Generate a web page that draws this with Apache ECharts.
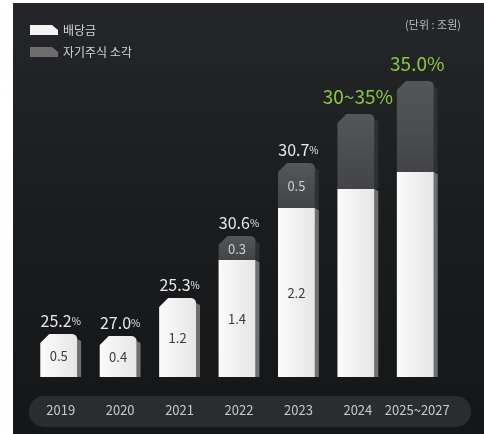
<!DOCTYPE html>
<html>
<head>
<meta charset="utf-8">
<script src="https://cdn.jsdelivr.net/npm/echarts@6/dist/echarts.min.js"></script>
<style>
  html, body { margin: 0; padding: 0; background: #fff; }
  #chart { width: 484px; height: 434px; }
</style>
</head>
<body>
<div id="chart"></div>
<script>
// categories
const years = ['2019', '2020', '2021', '2022', '2023', '2024', '2025~2027'];
// bar lengths as drawn in the picture (the graphic is not to scale)
const dividendBar = [1.075, 1.025, 1.975, 2.925, 4.225, 4.7, 5.125];
const buybackBar = [0, 0, 0, 0.6, 1.125, 1.875, 2.275];
// printed values (조원)
const dividendText = ['0.5', '0.4', '1.2', '1.4', '2.2', '', ''];
const buybackText = ['', '', '', '0.3', '0.5', '', ''];
// shareholder return ratio (%)
const payoutText = ['25.2', '27.0', '25.3', '30.6', '30.7', '30~35', '35.0'];
const isTarget = [false, false, false, false, false, true, true];

const FONT = '"Noto Sans CJK KR", "Noto Sans", sans-serif';
const chart = echarts.init(document.getElementById('chart'));

const CH = 9, RAD = 5, SIDE = 4;

function facePoints(x0, x1, yt, yb, shaped) {
    if (!shaped) return [[x0, yb], [x0, yt], [x1, yt], [x1, yb]];
    const pts = [[x0, yb], [x0, yt + CH], [x0 + CH, yt]];
    const cx = x1 - RAD, cy = yt + RAD;
    for (let k = 0; k <= 6; k++) {
        const a = -Math.PI / 2 + (Math.PI / 2) * k / 6;
        pts.push([cx + RAD * Math.cos(a), cy + RAD * Math.sin(a)]);
    }
    pts.push([x1, yb]);
    return pts;
}

function barGeom(api) {
    const i = api.value(0);
    const band = api.size([1, 0])[0];
    const w = band * 0.62;
    const cx = api.coord([i, 0])[0];
    const x0 = cx - (w + SIDE) / 2;
    return { i, x0, x1: x0 + w, mid: x0 + w / 2 };
}

function segment(g, yt, yb, shaped, face, sideColor, label, labelColor) {
    const children = [
        {
            type: 'polygon',
            shape: { points: [[g.x1, yt + (shaped ? RAD : 0)], [g.x1 + SIDE, yt + (shaped ? RAD + 2 : 2)], [g.x1 + SIDE, yb], [g.x1, yb]] },
            style: { fill: sideColor }
        },
        {
            type: 'polygon',
            shape: { points: facePoints(g.x0, g.x1, yt, yb, shaped) },
            style: { fill: face }
        }
    ];
    if (label) {
        children.push({
            type: 'text',
            style: {
                text: label, x: g.mid, y: (yt + yb) / 2 + 1,
                align: 'center', verticalAlign: 'middle',
                fill: labelColor, font: '13px ' + FONT
            }
        });
    }
    return { type: 'group', children };
}

const whiteFace = { type: 'linear', x: 0, y: 0, x2: 1, y2: 0,
    colorStops: [{ offset: 0, color: '#fbfbfb' }, { offset: 1, color: '#e6e6e6' }] };
const grayFace = { type: 'linear', x: 0, y: 0, x2: 0, y2: 1,
    colorStops: [{ offset: 0, color: '#555657' }, { offset: 1, color: '#434445' }] };

const barData = years.map((y, i) => [i, dividendBar[i], buybackBar[i]]);

chart.setOption({
    backgroundColor: {
        type: 'linear', x: 0, y: 0, x2: 0, y2: 1,
        colorStops: [
            { offset: 0, color: '#242629' },
            { offset: 0.55, color: '#1a1b1d' },
            { offset: 1, color: '#151617' }
        ]
    },
    textStyle: { fontFamily: FONT },
    animation: false,
    legend: {
        orient: 'vertical', left: 25, top: 19,
        itemWidth: 28, itemHeight: 10, itemGap: 10,
        textStyle: { color: '#d4d4d4', fontSize: 12, fontFamily: FONT },
        data: [
            { name: '배당금', icon: 'path://M0,0 L22,0 L28,5 L28,10 L0,10 Z', itemStyle: { color: '#f4f4f4' } },
            { name: '자기주식 소각', icon: 'path://M0,0 L22,0 L28,5 L28,10 L0,10 Z', itemStyle: { color: '#6c6c6c' } }
        ]
    },
    graphic: [
        { type: 'rect', z: 0, shape: { x: 29, y: 396, width: 442, height: 31, r: 15 }, style: { fill: '#2a2c2f' } },
        { type: 'rect', z: 100, shape: { x: 0, y: 0, width: 13, height: 434 }, style: { fill: '#ffffff' } },
        { type: 'rect', z: 100, shape: { x: 0, y: 0, width: 484, height: 3 }, style: { fill: '#ffffff' } },
        { type: 'text', z: 10, style: { text: '(단위 : 조원)', x: 461, y: 25, align: 'right', verticalAlign: 'middle', fill: '#bdbdbd', font: '11px ' + FONT } }
    ],
    grid: { left: 31, right: 37, top: 77, bottom: 57 },
    xAxis: {
        type: 'category', data: years, z: 5,
        axisLine: { show: false }, axisTick: { show: false }, splitLine: { show: false },
        axisLabel: { color: '#c9c9c9', fontSize: 13, margin: 27, interval: 0, fontFamily: FONT }
    },
    yAxis: { type: 'value', min: 0, max: 7.5, show: false },
    series: [
        {
            name: '배당금', type: 'custom', data: barData,
            itemStyle: { color: '#f4f4f4' },
            renderItem: (params, api) => {
                const g = barGeom(api);
                const yb = api.coord([g.i, 0])[1];
                const yt = api.coord([g.i, api.value(1)])[1];
                return segment(g, yt, yb, api.value(2) === 0, whiteFace, '#6e6f70', dividendText[g.i], '#3a3a3a');
            }
        },
        {
            name: '자기주식 소각', type: 'custom', data: barData,
            itemStyle: { color: '#6c6c6c' },
            renderItem: (params, api) => {
                if (!api.value(2)) return null;
                const g = barGeom(api);
                const yb = api.coord([g.i, api.value(1)])[1];
                const yt = api.coord([g.i, api.value(1) + api.value(2)])[1];
                return segment(g, yt, yb, true, grayFace, '#2f3031', buybackText[g.i], '#cfcfcf');
            }
        },
        {
            name: 'payout', type: 'custom', data: barData,
            renderItem: (params, api) => {
                const g = barGeom(api);
                const yt = api.coord([g.i, api.value(1) + api.value(2)])[1];
                const target = isTarget[g.i];
                return {
                    type: 'text',
                    style: {
                        text: target ? '{g|' + payoutText[g.i] + '%}' : '{n|' + payoutText[g.i] + '}{p|%}',
                        x: g.mid + 2, y: yt - (target ? 8 : 5),
                        align: 'center', verticalAlign: 'bottom',
                        rich: {
                            n: { fontSize: 16, fill: '#e8e8e8', fontFamily: FONT },
                            p: { fontSize: 10, fill: '#e8e8e8', fontFamily: FONT },
                            g: { fontSize: 19, fill: '#8cc641', fontFamily: FONT }
                        }
                    }
                };
            }
        }
    ]
});
</script>
</body>
</html>
